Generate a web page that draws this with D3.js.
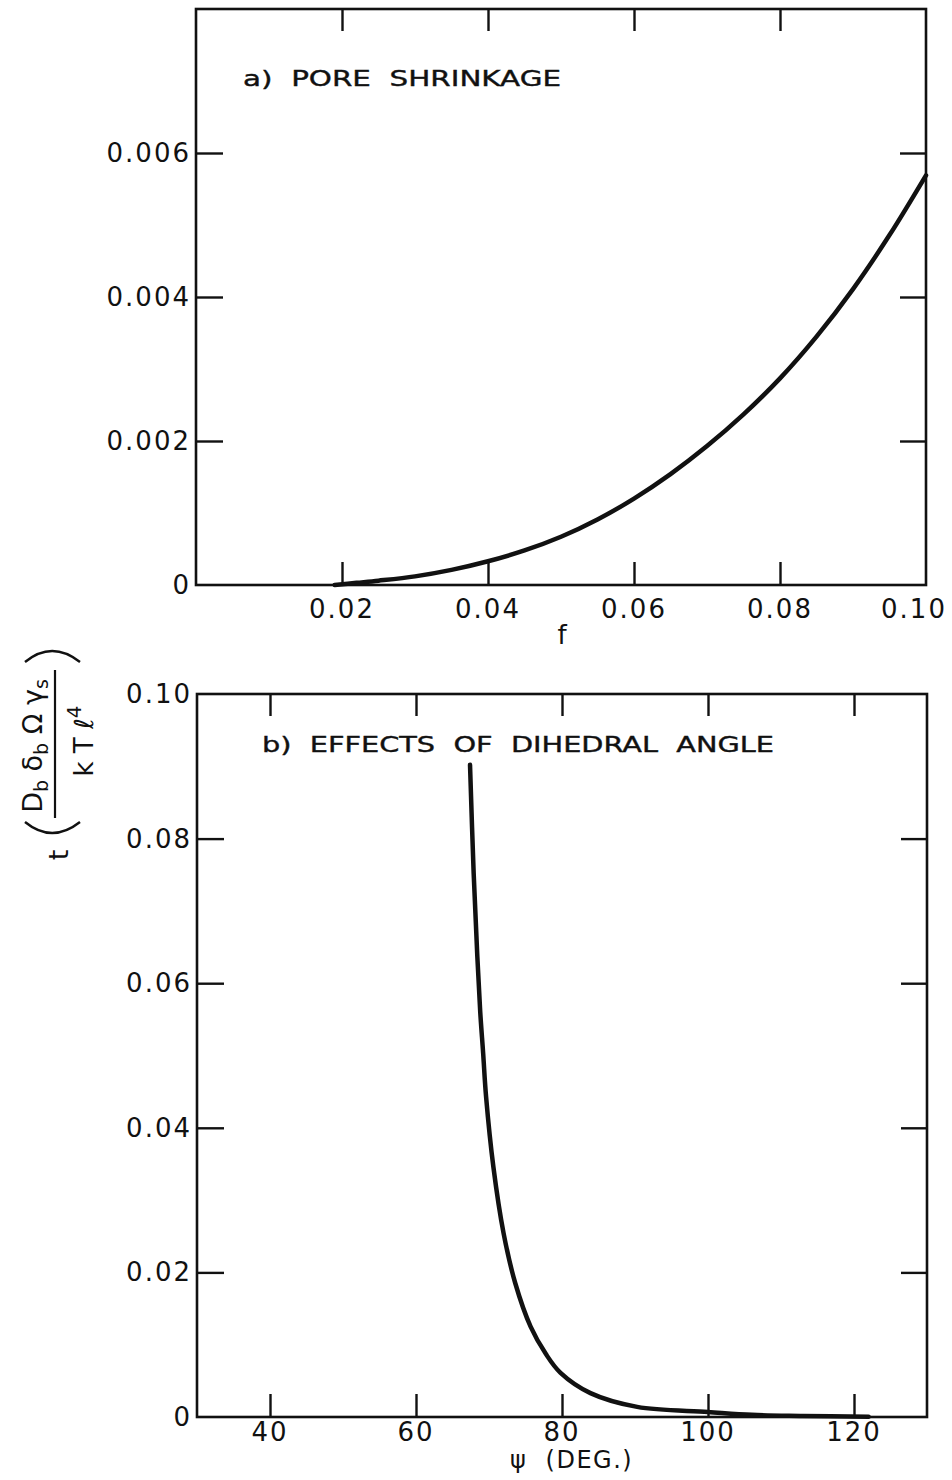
<!DOCTYPE html>
<html><head><meta charset="utf-8">
<script src="https://cdn.jsdelivr.net/npm/d3@7"></script>
<style>
html,body{margin:0;padding:0;background:#fff;}
svg{display:block;}
text{font-family:"DejaVu Sans",sans-serif;fill:#111;}
</style></head>
<body>
<svg id="c" width="952" height="1480"></svg>
<script>
// ---- Panel a) pore shrinkage ----
const fValues   = [0.019, 0.022, 0.025, 0.030, 0.035, 0.040, 0.045, 0.050, 0.055, 0.060, 0.065, 0.070, 0.075, 0.080, 0.085, 0.090, 0.095, 0.100];
const tPore     = [0.00000, 0.00003, 0.00006, 0.00012, 0.00021, 0.00033, 0.00048, 0.00067, 0.00091, 0.00120, 0.00154, 0.00193, 0.00237, 0.00287, 0.00345, 0.00411, 0.00486, 0.00569];
const aXTicks      = [0.02, 0.04, 0.06, 0.08];
const aXLabels     = [0.02, 0.04, 0.06, 0.08, 0.10];
const aXLabelText  = ["0.02", "0.04", "0.06", "0.08", "0.10"];
const aYTicks      = [0.002, 0.004, 0.006];
const aYLabels     = [0, 0.002, 0.004, 0.006];
const aYLabelText  = ["0", "0.002", "0.004", "0.006"];

// ---- Panel b) dihedral angle ----
const psiValues = [67.4, 67.9, 68.4, 68.8, 69.2, 69.6, 70.6, 72.0, 73.6, 75.7, 77.8, 79.8, 83.9, 90.3, 100.0, 106.0, 113.0, 122.0];
const tAngle    = [0.0902, 0.0752, 0.0637, 0.0560, 0.0503, 0.0443, 0.0346, 0.0254, 0.0185, 0.0125, 0.0087, 0.0061, 0.0033, 0.0014, 0.0007, 0.0003, 0.00015, 0.00003];
const bXTicks      = [40, 60, 80, 100, 120];
const bXLabelText  = ["40", "60", "80", "100", "120"];
const bYTicks      = [0.02, 0.04, 0.06, 0.08];
const bYLabels     = [0, 0.02, 0.04, 0.06, 0.08, 0.10];
const bYLabelText  = ["0", "0.02", "0.04", "0.06", "0.08", "0.10"];

const svg = d3.select("#c");

function panel(cfg){
  const x = d3.scaleLinear().domain(cfg.xDomain).range([cfg.left, cfg.right]);
  const y = d3.scaleLinear().domain(cfg.yDomain).range([cfg.bottom, cfg.top]);
  const g = svg.append("g");
  const axStyle = sel => { sel.select(".domain").remove();
    sel.selectAll(".tick line").attr("stroke","#111").attr("stroke-width",2.4);
    sel.selectAll(".tick text").remove(); };
  g.append("g").attr("transform",`translate(0,${cfg.bottom})`)
    .call(d3.axisBottom(x).tickValues(cfg.xTicks).tickSize(-23)).call(axStyle);
  g.append("g").attr("transform",`translate(0,${cfg.top})`)
    .call(d3.axisTop(x).tickValues(cfg.xTicks).tickSize(-22)).call(axStyle);
  g.append("g").attr("transform",`translate(${cfg.left},0)`)
    .call(d3.axisLeft(y).tickValues(cfg.yTicks).tickSize(-27)).call(axStyle);
  g.append("g").attr("transform",`translate(${cfg.right},0)`)
    .call(d3.axisRight(y).tickValues(cfg.yTicks).tickSize(-26)).call(axStyle);
  g.append("rect").attr("x",cfg.left).attr("y",cfg.top)
    .attr("width",cfg.right-cfg.left).attr("height",cfg.bottom-cfg.top)
    .attr("fill","none").attr("stroke","#111").attr("stroke-width",2.6);
  const nX = cfg.xLabels.length;
  g.selectAll(".xl").data(cfg.xLabels).enter().append("text")
    .attr("x",(d,i)=>x(d) + (i===nX-1 ? cfg.lastDx : 0)).attr("y",cfg.bottom+cfg.xLabOff)
    .attr("text-anchor","middle").attr("font-size",26).attr("letter-spacing",2)
    .text((d,i)=>cfg.xLabelText[i]);
  g.selectAll(".yl").data(cfg.yLabels).enter().append("text")
    .attr("x",cfg.left-5).attr("y",d=>y(d)+9)
    .attr("text-anchor","end").attr("font-size",26).attr("letter-spacing",2)
    .text((d,i)=>cfg.yLabelText[i]);
  const pts = cfg.xs.map((v,i)=>[v,cfg.ys[i]]);
  g.append("path").datum(pts)
    .attr("d",d3.line().x(d=>x(d[0])).y(d=>y(d[1])).curve(d3.curveCatmullRom.alpha(0.5)))
    .attr("fill","none").attr("stroke","#111").attr("stroke-width",4.5)
    .attr("stroke-linecap","round");
  g.append("text").attr("x",cfg.titleX).attr("y",cfg.titleY)
    .attr("font-size",22).attr("textLength",cfg.titleLen).attr("lengthAdjust","spacingAndGlyphs")
    .attr("xml:space","preserve").style("white-space","pre")
    .attr("stroke","#111").attr("stroke-width",0.4)
    .text(cfg.title);
  return {x,y};
}

panel({left:196,right:926,top:9,bottom:585,
  xDomain:[0,0.10], yDomain:[0,0.008],
  xTicks:aXTicks, xLabels:aXLabels, xLabelText:aXLabelText, xLabOff:33, lastDx:-12,
  yTicks:aYTicks, yLabels:aYLabels, yLabelText:aYLabelText,
  xs:fValues, ys:tPore,
  title:"a)  PORE  SHRINKAGE", titleX:243, titleY:86, titleLen:318});

panel({left:197,right:927,top:694,bottom:1417,
  xDomain:[30,130], yDomain:[0,0.10],
  xTicks:bXTicks, xLabels:bXTicks, xLabelText:bXLabelText, xLabOff:24, lastDx:0,
  yTicks:bYTicks, yLabels:bYLabels, yLabelText:bYLabelText,
  xs:psiValues, ys:tAngle,
  title:"b)  EFFECTS  OF  DIHEDRAL  ANGLE", titleX:262, titleY:752, titleLen:512});

// axis titles
svg.append("text").attr("x",562).attr("y",644).attr("text-anchor","middle")
  .attr("font-size",26).text("f");
svg.append("text").attr("x",510).attr("y",1468).attr("text-anchor","start")
  .attr("font-size",24).attr("letter-spacing",1.5)
  .attr("xml:space","preserve").style("white-space","pre").text("ψ  (DEG.)");

// y-axis label (rotated)
const yl = svg.append("g").attr("transform","rotate(-90)");
const num = yl.append("text").attr("x",-746).attr("y",42).attr("text-anchor","middle")
  .attr("font-size",27);
num.append("tspan").text("D");
num.append("tspan").attr("font-size",19).attr("dy",6).text("b");
num.append("tspan").attr("dy",-6).text(" δ");
num.append("tspan").attr("font-size",19).attr("dy",6).text("b");
num.append("tspan").attr("dy",-6).text(" Ω ");
num.append("tspan").text("γ");
num.append("tspan").attr("font-size",19).attr("dy",6).text("s");
yl.append("line").attr("x1",-818).attr("x2",-670).attr("y1",55).attr("y2",55)
  .attr("stroke","#111").attr("stroke-width",2.2);
const den = yl.append("text").attr("x",-741).attr("y",93).attr("text-anchor","middle")
  .attr("font-size",26);
den.append("tspan").text("k T ℓ");
den.append("tspan").attr("font-size",20).attr("dy",-12).text("4");
yl.append("text").attr("x",-855).attr("y",68).attr("text-anchor","middle")
  .attr("font-size",27).text("t");
svg.append("path").attr("d","M25,822 Q52,844 80,822").attr("fill","none")
  .attr("stroke","#111").attr("stroke-width",2.4);
svg.append("path").attr("d","M25,662 Q52,640 80,662").attr("fill","none")
  .attr("stroke","#111").attr("stroke-width",2.4);
</script>
</body></html>
